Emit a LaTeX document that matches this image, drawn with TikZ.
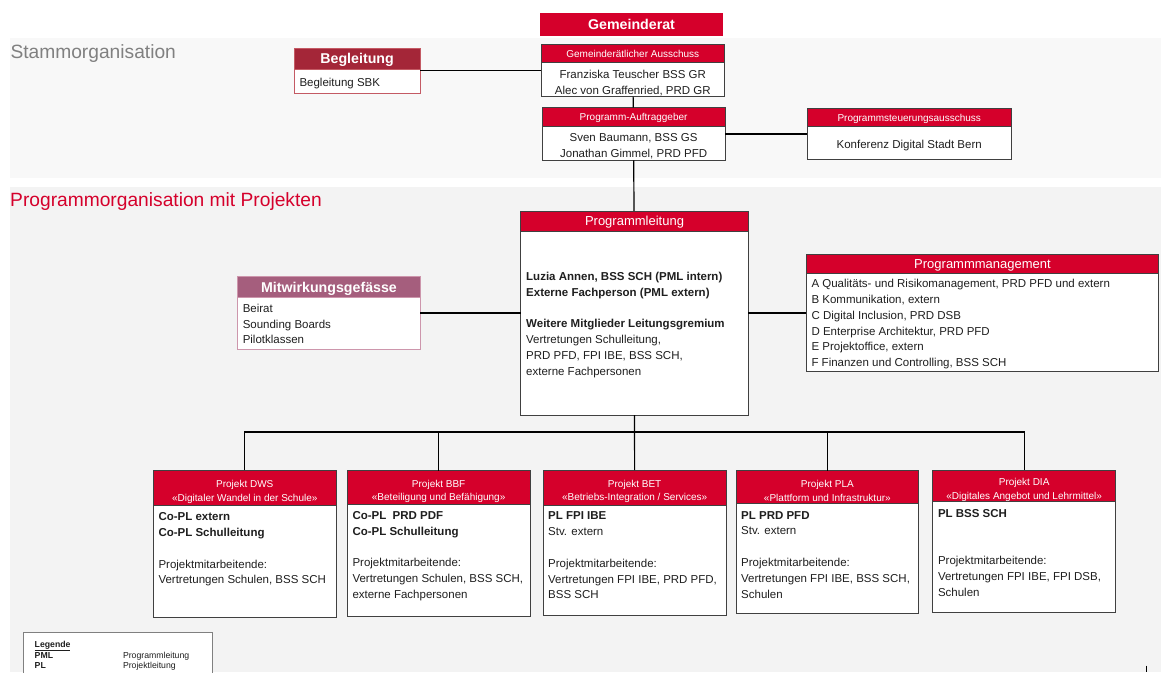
\documentclass[tikz,border=0pt]{standalone}
\usepackage{fontspec}
\setmainfont{Liberation Sans}
\usetikzlibrary{positioning}

\definecolor{bernred}{RGB}{213,0,43}
\definecolor{begred}{RGB}{164,38,56}
\definecolor{begline}{RGB}{196,90,100}
\definecolor{mitred}{RGB}{165,94,125}
\definecolor{mitline}{RGB}{205,150,172}
\definecolor{framegray}{RGB}{64,64,64}
\definecolor{stammbg}{RGB}{248,248,248}
\definecolor{progbg}{RGB}{243,243,243}
\definecolor{titlegray}{RGB}{128,128,128}

\newcommand{\orgBodyFont}{\fontsize{11.5}{15.8}\selectfont}
\newcommand{\orgHeadFont}{\fontsize{10}{13.7}\selectfont}
\newcommand{\orgTitleFont}{\fontsize{13}{15}\selectfont}
\newcommand{\orgBigFont}{\fontsize{14.2}{16}\selectfont\bfseries}
\newcommand{\orgSectionFont}{\fontsize{19.2}{22}\selectfont}
\newcommand{\orgLegendFont}{\fontsize{8.7}{10}\selectfont}
\newcommand{\headLift}{\rule{0pt}{15.3pt}}

\begin{document}
\begin{tikzpicture}
      [
        x=1pt, y=-1pt,
        node distance = 0pt,
        OrgFrame/.style={draw=framegray, line width=1pt, fill=white, minimum width=183pt, inner sep=0pt, outer sep=0pt},
        OrgHead/.style={draw=framegray, line width=1pt, fill=bernred, text=white, minimum width=183pt, inner sep=0pt, outer sep=0pt, anchor=north, align=center, font=\orgHeadFont},
        FlatHead/.style={OrgHead, text depth=0pt},
        OrgText/.style={inner sep=0pt, align=left, text=black!88, font=\orgBodyFont},
        OrgLink/.style={line width=1.2pt, draw=black},
      ]

      \useasboundingbox (0,0) rectangle (1161,672);

      % background panels
      \fill[stammbg] (10,38.3) rectangle (1161,177.7);
      \fill[progbg] (10,187.3) rectangle (1161,672);

      \node [font=\orgSectionFont, text=titlegray, anchor=base west, inner sep=0pt] (stammTitle) at (10.3,58) {Stammorganisation};
      \node [font=\orgSectionFont, text=bernred, anchor=base west, inner sep=0pt] (progTitle) at (10,206.5) {Programmorganisation mit Projekten};

      % Stammorganisation
      \node [fill=bernred, minimum width=183pt, minimum height=22.4pt, inner sep=0pt, text depth=0pt, text=white, font=\orgBigFont] (gr) at (631.5,24.5) {Gemeinderat};

      \node [OrgFrame, minimum height=52.4pt] (ga) at (632.8,70.5) {};
      \node [FlatHead, minimum height=18.4pt] (gaHead) at (ga.north) {Gemeinderätlicher Ausschuss};
      \node [OrgText, align=center, below=7pt of gaHead] (gaText) {Franziska Teuscher BSS GR\\Alec von Graffenried, PRD GR};

      \node [OrgFrame, minimum height=52.6pt] (pa) at (633.6,134) {};
      \node [FlatHead, minimum height=19pt] (paHead) at (pa.north) {Programm-Auftraggeber};
      \node [OrgText, align=center, below=7pt of paHead] (paText) {Sven Baumann, BSS GS\\Jonathan Gimmel, PRD PFD};

      \node [OrgFrame, minimum width=203.6pt, minimum height=51pt] (psa) at (909.2,134) {};
      \node [FlatHead, minimum width=203.6pt, minimum height=18.3pt] (psaHead) at (psa.north) {Programmsteuerungsausschuss};
      \node [OrgText, align=center, below=12.7pt of psaHead] (psaText) {Konferenz Digital Stadt Bern};

      \node [OrgFrame, draw=begline, minimum width=126.2pt, minimum height=45pt] (beg) at (357.1,70.5) {};
      \node [FlatHead, draw=begline, fill=begred, minimum width=126.2pt, minimum height=21.4pt, font=\orgBigFont] (begHead) at (beg.north) {Begleitung};
      \node [OrgText, below right=8.7pt and 5.3pt of begHead.south west] (begText) {Begleitung SBK};

      % Programmorganisation
      \node [OrgFrame, minimum width=227.6pt, minimum height=204pt] (pl) at (634.5,313) {};
      \node [FlatHead, minimum width=227.6pt, minimum height=20pt, font=\orgTitleFont] (plHead) at (pl.north) {Programmleitung};
      \node [OrgText, below right=40.7pt and 5.3pt of plHead.south west] (plText)
        {\textbf{Luzia Annen, BSS SCH (PML intern)}\\\textbf{Externe Fachperson (PML extern)}\\[15.8pt]
         \textbf{Weitere Mitglieder Leitungsgremium}\\Vertretungen Schulleitung,\\PRD PFD, FPI IBE, BSS SCH,\\externe Fachpersonen};

      \node [OrgFrame, draw=mitline, minimum width=182.9pt, minimum height=72.3pt] (mit) at (329,313) {};
      \node [FlatHead, draw=mitline, fill=mitred, minimum width=182.9pt, minimum height=21pt, font=\orgBigFont] (mitHead) at (mit.north) {Mitwirkungsgefässe};
      \node [OrgText, below right=6pt and 5pt of mitHead.south west] (mitText) {Beirat\\Sounding Boards\\Pilotklassen};

      \node [OrgFrame, minimum width=352.4pt, minimum height=117.7pt] (pm) at (982.5,313) {};
      \node [FlatHead, minimum width=352.4pt, minimum height=19pt, font=\orgTitleFont] (pmHead) at (pm.north) {Programmmanagement};
      \node [OrgText, below right=6.1pt and 5pt of pmHead.south west] (pmText)
        {A Qualitäts- und Risikomanagement, PRD PFD und extern\\B Kommunikation, extern\\C Digital Inclusion, PRD DSB\\
         D Enterprise Architektur, PRD PFD\\E Projektoffice, extern\\F Finanzen und Controlling, BSS SCH};

      % Projekte
      \node [OrgFrame, minimum height=147.3pt] (dws) at (244.8,543.65) {};
      \node [OrgHead, minimum height=35.3pt] (dwsHead) at (dws.north) {\headLift Projekt DWS\\«Digitaler Wandel in der Schule»};
      \node [OrgText, below right=7.1pt and 5pt of dwsHead.south west] (dwsText)
        {\textbf{Co-PL extern}\\\textbf{Co-PL Schulleitung}\\[15.8pt]Projektmitarbeitende:\\Vertretungen Schulen, BSS SCH};

      \node [OrgFrame, minimum width=182.7pt, minimum height=145.8pt] (bbf) at (438.65,543.4) {};
      \node [OrgHead, minimum width=182.7pt, minimum height=33.8pt] (bbfHead) at (bbf.north) {\headLift Projekt BBF\\«Beteiligung und Befähigung»};
      \node [OrgText, below right=6.7pt and 5pt of bbfHead.south west] (bbfText)
        {\textbf{Co-PL\ \ PRD PDF}\\\textbf{Co-PL Schulleitung}\\[15.8pt]Projektmitarbeitende:\\Vertretungen Schulen, BSS SCH,\\externe Fachpersonen};

      \node [OrgFrame, minimum width=182.7pt, minimum height=145.3pt] (bet) at (634.65,542.65) {};
      \node [OrgHead, minimum width=182.7pt, minimum height=35pt] (betHead) at (bet.north) {\headLift Projekt BET\\«Betriebs-Integration / Services»};
      \node [OrgText, below right=6.7pt and 4.7pt of betHead.south west] (betText)
        {\textbf{PL FPI IBE}\\Stv. extern\\[15.8pt]Projektmitarbeitende:\\Vertretungen FPI IBE, PRD PFD,\\BSS SCH};

      \node [OrgFrame, minimum width=182.7pt, minimum height=142.6pt] (pla) at (827.35,542) {};
      \node [OrgHead, minimum width=182.7pt, minimum height=33pt] (plaHead) at (pla.north) {\headLift Projekt PLA\\«Plattform und Infrastruktur»};
      \node [OrgText, below right=7.3pt and 5pt of plaHead.south west] (plaText)
        {\textbf{PL PRD PFD}\\Stv. extern\\[15.8pt]Projektmitarbeitende:\\Vertretungen FPI IBE, BSS SCH,\\Schulen};

      \node [OrgFrame, minimum width=182.7pt, minimum height=142.3pt] (dia) at (1024.15,541.15) {};
      \node [OrgHead, minimum width=182.7pt, minimum height=31.7pt] (diaHead) at (dia.north) {\headLift Projekt DIA\\«Digitales Angebot und Lehrmittel»};
      \node [OrgText, below right=7.3pt and 5pt of diaHead.south west] (diaText)
        {\textbf{PL BSS SCH}\\[31.6pt]Projektmitarbeitende:\\Vertretungen FPI IBE, FPI DSB,\\Schulen};

      % Legende
      \node [draw=titlegray, line width=1pt, fill=white, minimum width=189pt, minimum height=60pt, inner sep=0pt] (legend) at (117.8,662.7) {};
      \node [OrgText, font=\orgLegendFont, below right=8.3pt and 11.7pt of legend.north west] (legendText)
        {\underline{\textbf{Legende}}\\\makebox[88.3pt][l]{\textbf{PML}}Programmleitung\\\makebox[88.3pt][l]{\textbf{PL}}Projektleitung};

      % connectors
      \draw[OrgLink] (beg) -- (ga);
      \draw[OrgLink] (ga) -- (pa);
      \draw[OrgLink] (pa) -- (psa);
      \draw[OrgLink] (pa) -- (pl);
      \draw[OrgLink] (mit) -- (pl);
      \draw[OrgLink] (pl) -- (pm);
      \draw[OrgLink] (pl) -- (bet);

      \coordinate (bus) at (634.5,432);
      \draw[OrgLink] (dws.north) |- (bus) -| (dia.north);
      \draw[OrgLink] (bbf.north) -- (bbf.north |- bus);
      \draw[OrgLink] (pla.north) -- (pla.north |- bus);

      \draw[line width=1pt] (1146.7,665.7) -- (1146.7,672);
    \end{tikzpicture}
\end{document}
